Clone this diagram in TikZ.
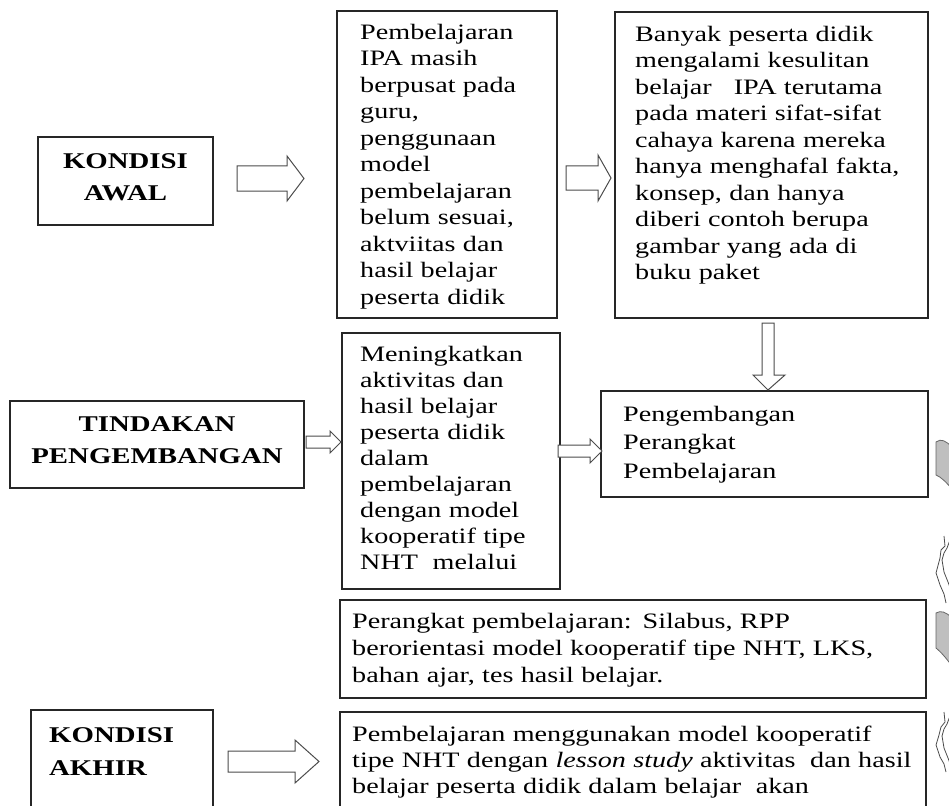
\documentclass[tikz,border=0pt]{standalone}
\usepackage{fontspec}
\setmainfont{Liberation Serif}[FakeStretch=1.28]
\begin{document}
\begin{tikzpicture}[x=1pt,y=-1pt,
  box/.style={draw=black!85,line width=1.1pt,fill=none,inner sep=0pt,outer sep=0pt,anchor=north west},
  txt/.style={inner sep=0pt,anchor=north west,align=left,text width=#1,font=\fontsize{22}{26.5}\selectfont},
  ttl/.style={inner sep=0pt,align=center,font=\fontsize{22.5}{32}\selectfont\bfseries},
  blk/.style={draw=black!70,fill=white,line width=1pt,line join=miter},
  curl/.style={draw=black!60,fill=black!25,line width=0.8pt},
  curv/.style={draw=black!70,line width=0.8pt}]
\clip (0,0) rectangle (949,805);
\fill[white] (0,0) rectangle (949,805);
\newcommand{\fl}{\rule{0pt}{16pt}}
% boxes
\node[box,minimum width=175pt,minimum height=88pt] (awal) at (38,137) {};
\node[box,minimum width=220pt,minimum height=307pt] (b2) at (337,11) {};
\node[box,minimum width=313pt,minimum height=306pt] (b3) at (615,12) {};
\node[box,minimum width=327pt,minimum height=106pt] (peng) at (601,391) {};
\node[box,minimum width=294pt,minimum height=87pt] (tind) at (10,401) {};
\node[box,minimum width=218pt,minimum height=256pt] (men) at (342,333) {};
\node[box,minimum width=586pt,minimum height=98pt] (per) at (340,600) {};
\node[box,minimum width=182pt,minimum height=120pt] (akhir) at (31,710) {};
\node[box,minimum width=586pt,minimum height=118pt] (hasil) at (340,712) {};
% titles
\node[ttl] (awalt) at (125.5,177) {KONDISI\\AWAL};
\node[ttl] (tindt) at (157,440.5) {TINDAKAN\\PENGEMBANGAN};
\node[ttl,anchor=north west,align=left,font=\fontsize{22.5}{33}\selectfont\bfseries] (akhirt) at (49,726) {\fl KONDISI\\AKHIR};
% texts
\node[txt=200pt] (b2t) at (360,23) {\fl Pembelajaran\\IPA masih\\berpusat pada\\guru,\\penggunaan\\model\\pembelajaran\\belum sesuai,\\aktviitas dan\\hasil belajar\\peserta didik};
\node[txt=300pt] (b3t) at (635,25) {\fl Banyak peserta didik\\mengalami kesulitan\\belajar \ \ IPA terutama\\pada materi sifat-sifat\\cahaya karena mereka\\hanya menghafal fakta,\\konsep, dan hanya\\diberi contoh berupa\\gambar yang ada di\\buku paket};
\node[txt=300pt,font=\fontsize{22}{28.5}\selectfont] (pengt) at (623,405) {\fl Pengembangan\\Perangkat\\Pembelajaran};
\node[txt=200pt,font=\fontsize{22}{26}\selectfont] (ment) at (360,345) {\fl Meningkatkan\\aktivitas dan\\hasil belajar\\peserta didik\\dalam\\pembelajaran\\dengan model\\kooperatif tipe\\NHT \ melalui};
\node[txt=570pt,font=\fontsize{22}{27}\selectfont] (pert) at (352,612) {\fl Perangkat pembelajaran: Silabus, RPP\\berorientasi model kooperatif tipe NHT, LKS,\\bahan ajar, tes hasil belajar.};
\node[txt=570pt,font=\fontsize{22}{26}\selectfont] (hasilt) at (352,725) {\fl Pembelajaran menggunakan model kooperatif\\tipe NHT dengan \textit{lesson study} aktivitas \ dan hasil\\belajar peserta didik dalam belajar \ akan};
% block arrows
\draw[blk] (237,166) -- (287,166) -- (287,156) -- (304,178.5) -- (287,201) -- (287,191) -- (237,191) -- cycle;
\draw[blk] (566,166) -- (598,166) -- (598,155) -- (611,178) -- (598,201) -- (598,190) -- (566,190) -- cycle;
\draw[blk] (762,323) -- (774,323) -- (774,375) -- (785,375) -- (768,390) -- (753,375) -- (762,375) -- cycle;
\draw[blk] (306,436) -- (330,436) -- (330,431) -- (341,442) -- (330,453) -- (330,448) -- (306,448) -- cycle;
\draw[blk] (558,445) -- (590,445) -- (590,439) -- (602,451) -- (590,463) -- (590,457) -- (558,457) -- cycle;
\draw[blk] (228,751) -- (295,751) -- (295,740) -- (319,761.5) -- (295,783) -- (295,772) -- (228,772) -- cycle;
% partial curved arrows at right edge
\draw[curl] (936,442) .. controls (941,438) and (946,441) .. (952,447) -- (952,489) .. controls (946,482) and (941,477) .. (936,475) -- cycle;
\draw[curl] (936,613) .. controls (941,610) and (946,612) .. (952,618) -- (952,666) .. controls (946,658) and (941,652) .. (936,648) -- cycle;
\draw[curv] (944,536) -- (945,546) -- (941,550) -- (940,558) -- (936,573) -- (940,585) -- (944,594) -- (946,603);
\draw[curv] (950,540) -- (947,548) -- (944,553) -- (942,560) -- (944,572) -- (948,582) -- (951,590);
\draw[curv] (944,712) -- (945,722) -- (941,727) -- (939,735) -- (936,745) -- (940,757) -- (944,764) -- (946,772);
\draw[curv] (950,716) -- (947,724) -- (944,729) -- (942,736) -- (944,748) -- (948,758) -- (951,766);
\end{tikzpicture}
\end{document}
